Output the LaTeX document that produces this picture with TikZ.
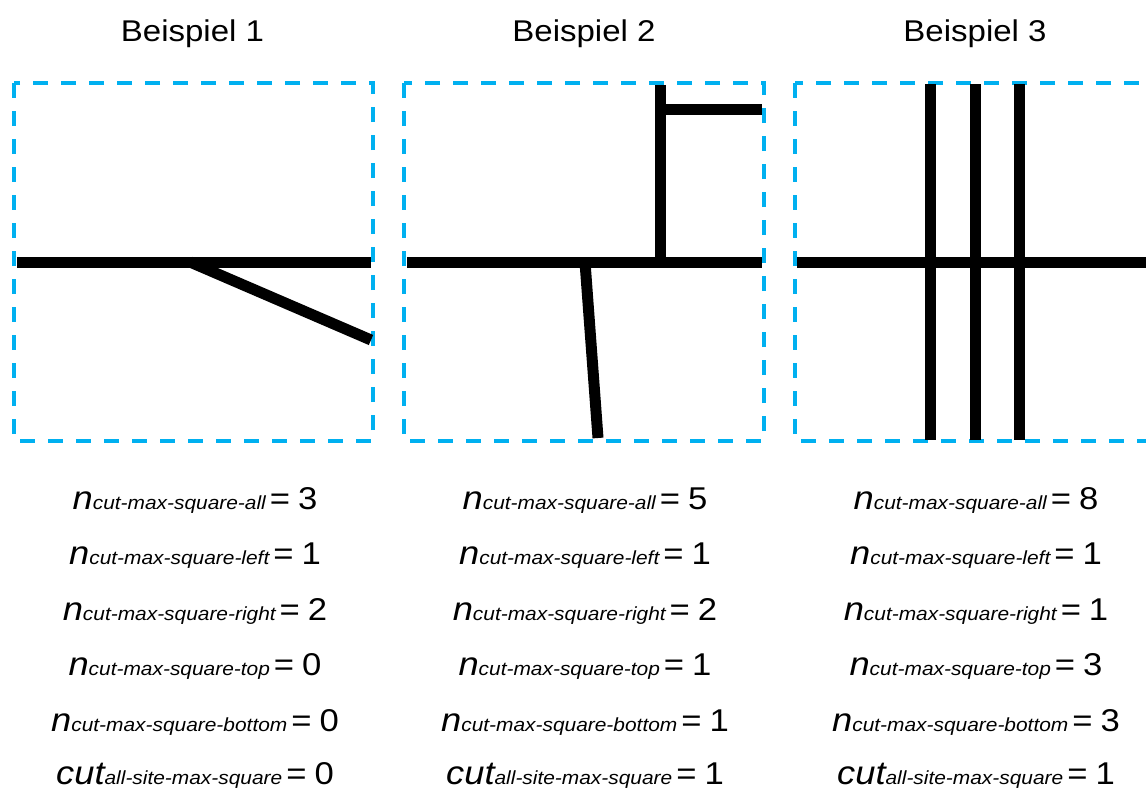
\documentclass[tikz,border=0pt]{standalone}
\usepackage{fontspec}
\setmainfont{Liberation Sans}[FakeStretch=1.1]
\definecolor{frameblue}{HTML}{00B0F0}
\newcommand{\bigsz}{\fontsize{33}{33}\selectfont}
\newcommand{\subsz}{\fontsize{19}{19}\selectfont}
\newcommand{\valsz}{\fontsize{31.5}{31.5}\selectfont}
\newcommand{\titsz}{\fontsize{30}{30}\selectfont}
\newcommand{\eqline}[3]{{\bigsz\itshape #1}{\subsz\itshape #2}\hspace{4pt}{\valsz =\hspace{8pt}#3}}
\tikzset{
  frame/.style={draw=frameblue, line width=3.3pt, dash pattern=on 15pt off 13pt},
  bar/.style={draw=black, line width=11pt, line cap=butt},
  title/.style={font=\titsz, anchor=base, inner sep=0pt},
  eqn/.style={anchor=base, inner sep=0pt},
}
\begin{document}
\begin{tikzpicture}[x=1pt,y=-1pt]
\useasboundingbox (0,0) rectangle (1146,790);
% titles
\node[title] (t1) at (192.5,41) {Beispiel 1};
\node[title] (t2) at (584,41) {Beispiel 2};
\node[title] (t3) at (975,41) {Beispiel 3};
% frames
\draw[frame] (14,83) rectangle (373,441);
\draw[frame] (404,83) rectangle (764,441);
\draw[frame] (795,83) rectangle (1155,441);
% example 1
\draw[bar] (17,262) -- (371,262);
\draw[bar] (190,262) -- (371,340);
% example 2
\draw[bar] (407,262) -- (762,262);
\draw[bar] (660,85) -- (660,262);
\draw[bar] (660,109) -- (762,109);
\draw[bar] (585,262) -- (598,438);
% example 3
\draw[bar] (797,262) -- (1146,262);
\draw[bar] (930,84) -- (930,440);
\draw[bar] (975,84) -- (975,440);
\draw[bar] (1019,84) -- (1019,440);
% equations
\foreach \cx/\a/\b/\c/\d/\e/\f [count=\i] in {195/3/1/2/0/0/0, 585/5/1/2/1/1/1, 976/8/1/1/3/3/1}{
  \node[eqn] (e\i a) at (\cx,509) {\eqline{n}{cut-max-square-all}{\a}};
  \node[eqn] (e\i b) at (\cx,564.5) {\eqline{n}{cut-max-square-left}{\b}};
  \node[eqn] (e\i c) at (\cx,620) {\eqline{n}{cut-max-square-right}{\c}};
  \node[eqn] (e\i d) at (\cx,675.5) {\eqline{n}{cut-max-square-top}{\d}};
  \node[eqn] (e\i e) at (\cx,731) {\eqline{n}{cut-max-square-bottom}{\e}};
  \node[eqn] (e\i f) at (\cx,784) {\eqline{cut}{all-site-max-square}{\f}};
}
\end{tikzpicture}
\end{document}
